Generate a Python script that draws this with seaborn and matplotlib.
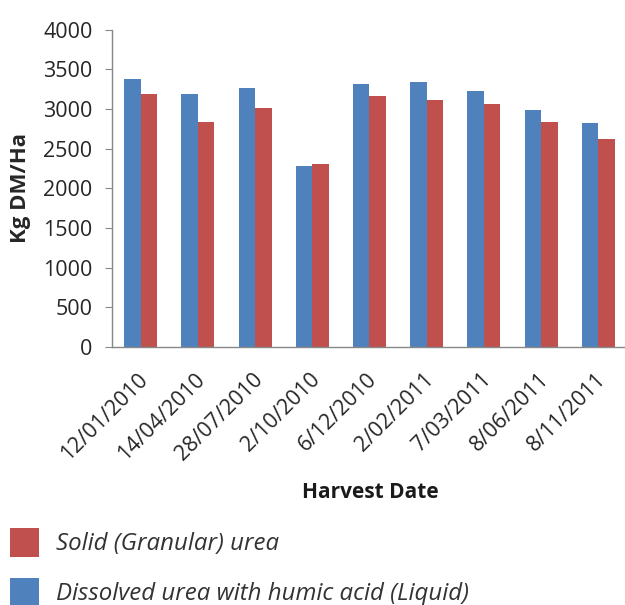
import matplotlib
matplotlib.use("Agg")
import matplotlib.pyplot as plt
import matplotlib.transforms as mtransforms
from matplotlib.patches import Rectangle
import seaborn as sns
import pandas as pd

dates = ["12/01/2010", "14/04/2010", "28/07/2010", "2/10/2010", "6/12/2010",
         "2/02/2011", "7/03/2011", "8/06/2011", "8/11/2011"]
liquid = [3375, 3183, 3262, 2280, 3308, 3333, 3228, 2981, 2817]
solid = [3183, 2830, 3014, 2309, 3165, 3111, 3064, 2834, 2615]
series_names = ["Dissolved urea with humic acid (Liquid)", "Solid (Granular) urea"]
colors = ["#4F81BD", "#C0504D"]
yticks = [0, 500, 1000, 1500, 2000, 2500, 3000, 3500, 4000]

df = pd.DataFrame({
    "date": dates * 2,
    "value": liquid + solid,
    "series": [series_names[0]] * len(dates) + [series_names[1]] * len(dates),
})

sns.set_style("white")
plt.rcParams["font.family"] = ["Open Sans", "DejaVu Sans"]

W, H = 625, 605
fig = plt.figure(figsize=(W / 100, H / 100), dpi=100)
ax = fig.add_axes([112 / W, 1 - 347 / H, 515 / W, (347 - 29.5) / H])

sns.barplot(data=df, x="date", y="value", hue="series", hue_order=series_names,
            palette=colors, width=0.575, saturation=1, linewidth=0, ax=ax, legend=False)

ax.set_ylim(0, 4000)
ax.set_yticks(yticks)
ax.set_yticklabels([str(v) for v in yticks], fontsize=15.5, color="#262626")
ax.set_xlim(-0.5, len(dates) - 0.5)
ax.tick_params(axis="y", length=5, width=0.8, color="#888888", direction="out", left=True, pad=9)
ax.tick_params(axis="x", length=0, pad=2)
for lbl in ax.get_xticklabels():
    lbl.set_rotation(45)
    lbl.set_ha("right")
    lbl.set_va("top")
    lbl.set_rotation_mode("anchor")
    lbl.set_fontsize(15.5)
    lbl.set_color("#262626")
    lbl.set_transform(lbl.get_transform() + mtransforms.ScaledTranslation(-3 / 100, -19 / 100, fig.dpi_scale_trans))

for s in ["top", "right"]:
    ax.spines[s].set_visible(False)
for s in ["left", "bottom"]:
    ax.spines[s].set_color("#888888")
    ax.spines[s].set_linewidth(1.0)

ax.set_ylabel("Kg DM/Ha", fontsize=16, fontweight="bold")
ax.yaxis.set_label_coords((31 - 112) / 515, 0.5)
ax.set_xlabel("")
fig.text(370 / W, 1 - 492 / H, "Harvest Date", fontsize=15, fontweight="bold",
         ha="center", va="center", color="#1a1a1a")

# legend (red first, then blue)
leg_items = [(series_names[1], colors[1], 528, 557), (series_names[0], colors[0], 578, 607)]
for name, col, y0, y1 in leg_items:
    fig.add_artist(Rectangle((10 / W, 1 - y1 / H), 29 / W, (y1 - y0) / H,
                             transform=fig.transFigure, color=col, lw=0))
    fig.text(56 / W, 1 - ((y0 + y1) / 2 + 2) / H, name, fontsize=17.3, style="italic",
             ha="left", va="center", color="#333333")

fig.savefig("out.png", dpi=100)
